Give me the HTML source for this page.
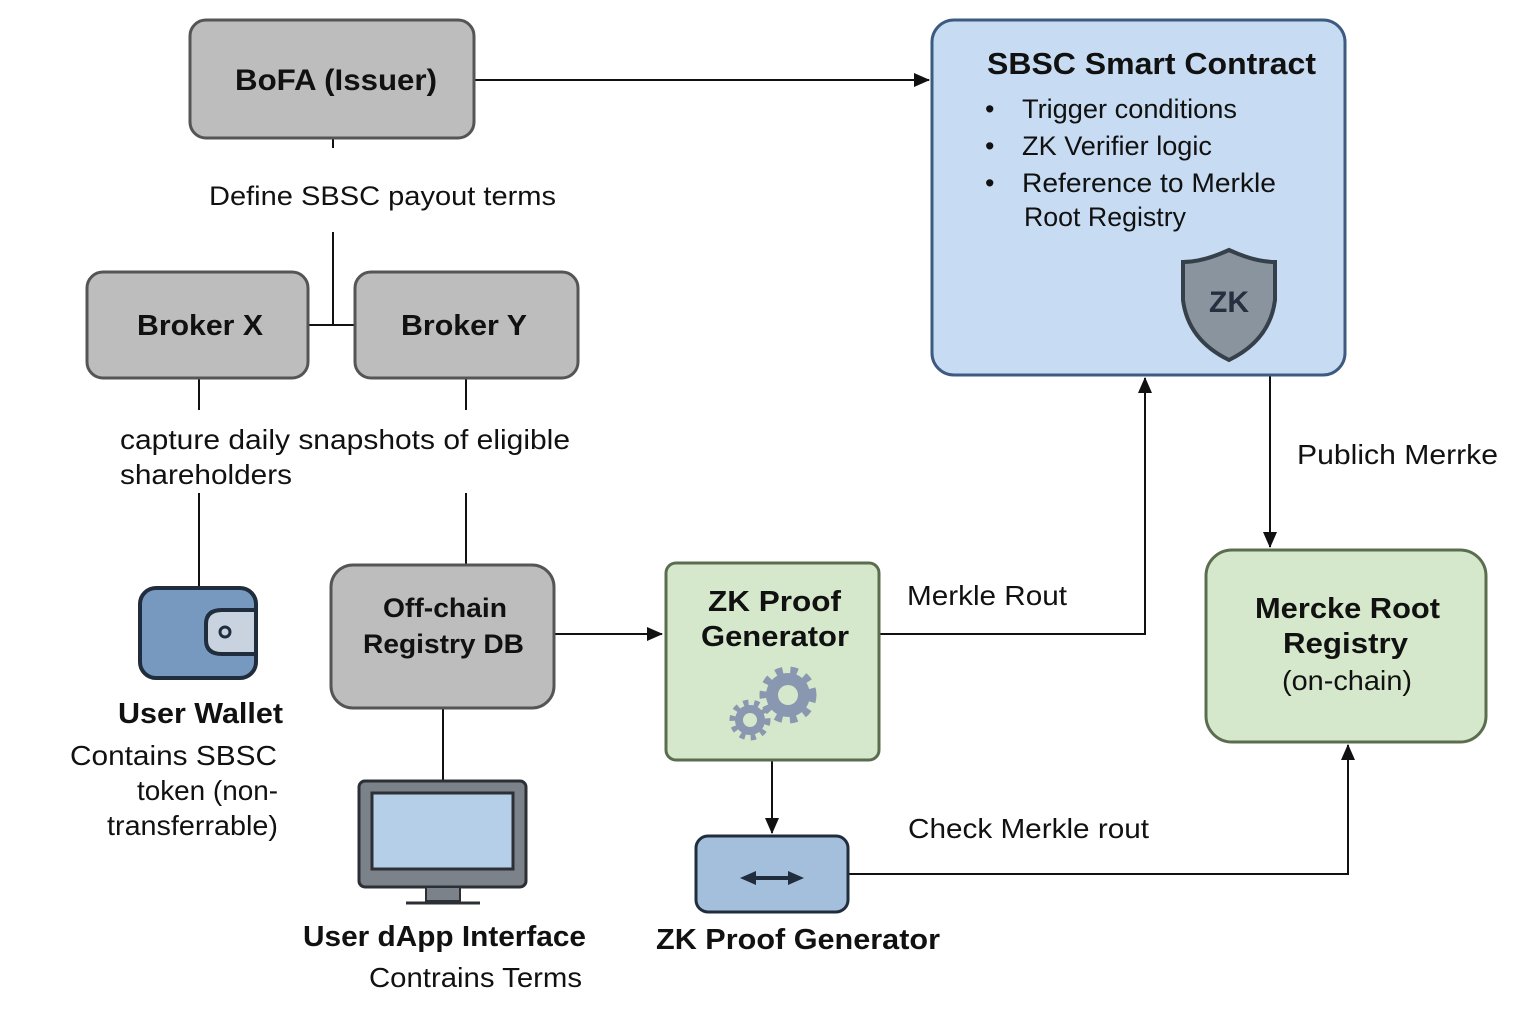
<!DOCTYPE html>
<html><head><meta charset="utf-8"><style>
body{margin:0;background:#fff}
svg{display:block}
text{font-family:"Liberation Sans",sans-serif;fill:#111}
.b{font-weight:bold}
</style></head><body>
<svg width="1536" height="1024" viewBox="0 0 1536 1024" xmlns="http://www.w3.org/2000/svg">
<defs><marker id="a2" markerWidth="16" markerHeight="14" refX="15" refY="7" orient="auto" markerUnits="userSpaceOnUse"><path d="M0,0 L16,7 L0,14 z" fill="#111"/></marker></defs>
<g stroke="#111" stroke-width="2" fill="none">
<line x1="474" y1="80" x2="929" y2="80" marker-end="url(#a2)"/>
<line x1="333" y1="138" x2="333" y2="148"/>
<line x1="333" y1="232" x2="333" y2="325"/>
<line x1="308" y1="325" x2="355" y2="325"/>
<line x1="199" y1="378" x2="199" y2="410"/>
<line x1="466" y1="378" x2="466" y2="410"/>
<line x1="199" y1="493" x2="199" y2="588"/>
<line x1="466" y1="493" x2="466" y2="564"/>
<line x1="554" y1="634" x2="662" y2="634" marker-end="url(#a2)"/>
<line x1="443" y1="708" x2="443" y2="780"/>
<polyline points="879,634 1145,634 1145,378" marker-end="url(#a2)"/>
<line x1="1270" y1="375" x2="1270" y2="547" marker-end="url(#a2)"/>
<line x1="772" y1="760" x2="772" y2="833" marker-end="url(#a2)"/>
<polyline points="848,874 1348,874 1348,745" marker-end="url(#a2)"/>
</g>
<rect x="190" y="20" width="284" height="118" rx="16" fill="#bdbdbd" stroke="#555" stroke-width="3"/>
<text x="235" y="90" font-size="30" class="b" textLength="202" lengthAdjust="spacingAndGlyphs">BoFA (Issuer)</text>
<rect x="932" y="20" width="413" height="355" rx="22" fill="#c7dcf2" stroke="#3d5a80" stroke-width="3"/>
<text x="987" y="74" font-size="31" class="b" textLength="329" lengthAdjust="spacingAndGlyphs">SBSC Smart Contract</text>
<g font-size="27"><text x="985" y="118">•</text><text x="1022" y="118" textLength="215" lengthAdjust="spacingAndGlyphs">Trigger conditions</text>
<text x="985" y="155">•</text><text x="1022" y="155" textLength="190" lengthAdjust="spacingAndGlyphs">ZK Verifier logic</text>
<text x="985" y="192">•</text><text x="1022" y="192" textLength="254" lengthAdjust="spacingAndGlyphs">Reference to Merkle</text>
<text x="1024" y="226" textLength="162" lengthAdjust="spacingAndGlyphs">Root Registry</text></g>
<path d="M1229,250 Q1255,262 1275,262 L1275,300 Q1270,340 1229,360 Q1188,340 1183,300 L1183,262 Q1203,262 1229,250 z" fill="#8a949f" stroke="#36404a" stroke-width="4"/>
<text x="1229" y="312" font-size="30" class="b" text-anchor="middle" style="fill:#243040">ZK</text>
<text x="209" y="205" font-size="27" textLength="347" lengthAdjust="spacingAndGlyphs">Define SBSC payout terms</text>
<rect x="87" y="272" width="221" height="106" rx="16" fill="#bdbdbd" stroke="#555" stroke-width="3"/>
<text x="137" y="335" font-size="29" class="b" textLength="126" lengthAdjust="spacingAndGlyphs">Broker X</text>
<rect x="355" y="272" width="223" height="106" rx="16" fill="#bdbdbd" stroke="#555" stroke-width="3"/>
<text x="401" y="335" font-size="29" class="b" textLength="126" lengthAdjust="spacingAndGlyphs">Broker Y</text>
<text x="120" y="449" font-size="28" textLength="450" lengthAdjust="spacingAndGlyphs">capture daily snapshots of eligible</text>
<text x="120" y="484" font-size="28" textLength="172" lengthAdjust="spacingAndGlyphs">shareholders</text>
<rect x="140" y="588" width="116" height="90" rx="16" fill="#7899bf" stroke="#1f2d3d" stroke-width="4"/>
<path d="M256,610 L222,610 Q206,610 206,624 L206,640 Q206,654 222,654 L256,654 z" fill="#c9d3e0" stroke="#1f2d3d" stroke-width="4"/>
<circle cx="225" cy="632" r="5" fill="none" stroke="#1f2d3d" stroke-width="3"/>
<text x="118" y="723" font-size="29" class="b" textLength="165" lengthAdjust="spacingAndGlyphs">User Wallet</text>
<g font-size="28"><text x="70" y="765" textLength="207" lengthAdjust="spacingAndGlyphs">Contains SBSC</text><text x="137" y="800" textLength="141" lengthAdjust="spacingAndGlyphs">token (non-</text><text x="107" y="835" textLength="171" lengthAdjust="spacingAndGlyphs">transferrable)</text></g>
<rect x="331" y="565" width="223" height="143" rx="22" fill="#bdbdbd" stroke="#555" stroke-width="3"/>
<text x="383" y="617" font-size="27" class="b" textLength="124" lengthAdjust="spacingAndGlyphs">Off-chain</text>
<text x="363" y="653" font-size="27" class="b" textLength="161" lengthAdjust="spacingAndGlyphs">Registry DB</text>
<rect x="359" y="781" width="167" height="106" rx="6" fill="#7b828a" stroke="#2c3036" stroke-width="3"/>
<rect x="372" y="793" width="141" height="76" fill="#b6cfe8" stroke="#2c3036" stroke-width="3"/>
<rect x="426" y="887" width="34" height="14" fill="#7b828a" stroke="#2c3036" stroke-width="2"/>
<line x1="406" y1="903" x2="480" y2="903" stroke="#2c3036" stroke-width="3"/>
<text x="303" y="946" font-size="29" class="b" textLength="283" lengthAdjust="spacingAndGlyphs">User dApp Interface</text>
<text x="369" y="987" font-size="28" textLength="213" lengthAdjust="spacingAndGlyphs">Contrains Terms</text>
<rect x="666" y="563" width="213" height="197" rx="10" fill="#d5e8cb" stroke="#5a6e4f" stroke-width="3"/>
<text x="708" y="611" font-size="29" class="b" textLength="133" lengthAdjust="spacingAndGlyphs">ZK Proof</text>
<text x="701" y="646" font-size="29" class="b" textLength="148" lengthAdjust="spacingAndGlyphs">Generator</text>
<g fill="#8a97b0">
<circle cx="788" cy="695" r="22"/><circle cx="750" cy="720" r="15"/>
<g stroke="#8a97b0" stroke-width="9" stroke-dasharray="7 7.4"><circle cx="788" cy="695" r="24" fill="none"/></g>
<g stroke="#8a97b0" stroke-width="7" stroke-dasharray="5 5.5"><circle cx="750" cy="720" r="17" fill="none"/></g>
<circle cx="788" cy="695" r="10" fill="#d5e8cb"/><circle cx="750" cy="720" r="7" fill="#d5e8cb"/></g>
<text x="907" y="605" font-size="28" textLength="160" lengthAdjust="spacingAndGlyphs">Merkle Rout</text>
<text x="1297" y="464" font-size="28" textLength="201" lengthAdjust="spacingAndGlyphs">Publich Merrke</text>
<rect x="1206" y="550" width="280" height="192" rx="26" fill="#d5e8cb" stroke="#5a6e4f" stroke-width="3"/>
<text x="1255" y="618" font-size="29" class="b" textLength="185" lengthAdjust="spacingAndGlyphs">Mercke Root</text>
<text x="1283" y="653" font-size="29" class="b" textLength="125" lengthAdjust="spacingAndGlyphs">Registry</text>
<text x="1282" y="690" font-size="28" textLength="130" lengthAdjust="spacingAndGlyphs">(on-chain)</text>
<rect x="696" y="836" width="152" height="76" rx="12" fill="#a4bfdc" stroke="#1f2d3d" stroke-width="3"/>
<g fill="#1f2d3d"><rect x="752" y="876" width="42" height="4"/><path d="M740,878 L756,871 L756,885 z"/><path d="M804,878 L788,871 L788,885 z"/></g>
<text x="908" y="838" font-size="28" textLength="241" lengthAdjust="spacingAndGlyphs">Check Merkle rout</text>
<text x="656" y="949" font-size="29" class="b" textLength="284" lengthAdjust="spacingAndGlyphs">ZK Proof Generator</text>
</svg>
</body></html>
